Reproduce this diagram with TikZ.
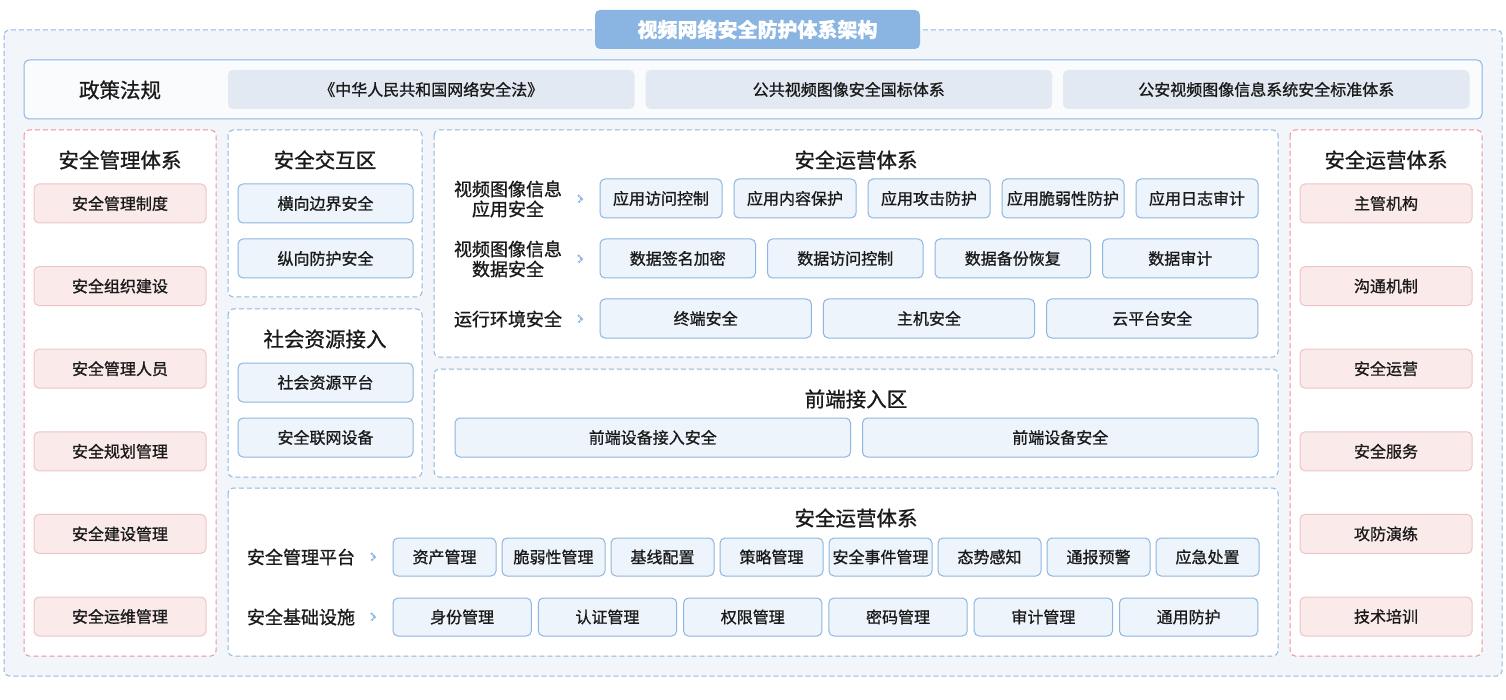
\documentclass[tikz,border=0pt]{standalone}
\usepackage{fontspec}
\setmainfont{Noto Sans CJK SC}[FakeBold=1]
\usetikzlibrary{positioning}
\definecolor{bgfill}{HTML}{F2F5F9}
\definecolor{dashblue}{HTML}{8FB8E3}
\definecolor{dashred}{HTML}{F0939D}
\definecolor{titlefill}{HTML}{8AB5E2}
\definecolor{itemline}{HTML}{8DB6E2}
\definecolor{itemfill}{HTML}{EEF4FB}
\definecolor{pinkline}{HTML}{EEC4C7}
\definecolor{pinkfill}{HTML}{FAEAEA}
\definecolor{lawfill}{HTML}{E2E9F2}
\definecolor{ink}{HTML}{1A1A1A}
\tikzset{
  panel/.style = {draw=dashblue, fill=white, line width=1pt,
                  dash pattern=on 5pt off 3pt, rounded corners=5pt},
  redpanel/.style = {panel, draw=dashred},
  item/.style = {draw=itemline, fill=itemfill, line width=1pt, rounded corners=5pt,
                 minimum height=39pt, inner sep=0pt, outer sep=0pt, text=ink,
                 font=\fontsize{16}{20}\selectfont},
  pinkitem/.style = {item, draw=pinkline, fill=pinkfill, minimum width=172pt},
  law/.style = {item, draw=none, fill=lawfill, minimum width=406.5pt},
  head/.style = {text=ink, inner sep=0pt, font=\fontsize{20.5}{24}\selectfont},
  lab/.style = {text=ink, inner sep=0pt, align=center, font=\fontsize{18}{20}\selectfont},
  chev/.style = {draw=itemline, line width=2pt, dash pattern=on 2pt off 0.8pt}
}
\begin{document}
\begin{tikzpicture}[x=1pt, y=-1pt]
		\useasboundingbox (0,0) rectangle (1506,700);
		
		% frame and title
		\draw[panel, fill=bgfill] (4,30) rectangle (1502,676);
		\node[fill=titlefill, rounded corners=5pt, minimum width=325pt, minimum height=39pt,
		      text=white, font=\fontsize{20}{24}\selectfont\bfseries] (title) at (757.5,29.5) {视频网络安全防护体系架构};
		
		% policy row
		\draw[draw=itemline, fill=white!60!bgfill, line width=1pt, rounded corners=5pt] (24,60) rectangle (1482,119);
		\node[head] (policy) at (120,90) {政策法规};
		\node[law] (law1) at (431.25,89.5) {《中华人民共和国网络安全法》};
		\node[law, right=11pt of law1] (law2) {公共视频图像安全国标体系};
		\node[law, right=11pt of law2] (law3) {公安视频图像信息系统安全标准体系};
		
		% panels
		\draw[redpanel] (24,130) rectangle (216,656);
		\draw[redpanel] (1290,130) rectangle (1482,656);
		\draw[panel] (228,130) rectangle (422,297);
		\draw[panel] (228,309) rectangle (422,477);
		\draw[panel] (434,130) rectangle (1278,357);
		\draw[panel] (434,369) rectangle (1278,477);
		\draw[panel] (228,488) rectangle (1278,656);
		
		% management system
		\node[head] (mgmt) at (120,160) {安全管理体系};
		\node[pinkitem] (m1) at (120,203.5) {安全管理制度};
		\node[pinkitem, below=43.6pt of m1] (m2) {安全组织建设};
		\node[pinkitem, below=43.6pt of m2] (m3) {安全管理人员};
		\node[pinkitem, below=43.6pt of m3] (m4) {安全规划管理};
		\node[pinkitem, below=43.6pt of m4] (m5) {安全建设管理};
		\node[pinkitem, below=43.6pt of m5] (m6) {安全运维管理};
		
		% operation system (right)
		\node[head] (ops) at (1386,160) {安全运营体系};
		\node[pinkitem] (o1) at (1386,203.5) {主管机构};
		\node[pinkitem, below=43.6pt of o1] (o2) {沟通机制};
		\node[pinkitem, below=43.6pt of o2] (o3) {安全运营};
		\node[pinkitem, below=43.6pt of o3] (o4) {安全服务};
		\node[pinkitem, below=43.6pt of o4] (o5) {攻防演练};
		\node[pinkitem, below=43.6pt of o5] (o6) {技术培训};
		
		% interaction zone and social resources
		\node[head] (xzone) at (325,160) {安全交互区};
		\node[item, minimum width=175pt] (x1) at (325.5,203.5) {横向边界安全};
		\node[item, minimum width=175pt, below=16pt of x1] (x2) {纵向防护安全};
		\node[head] (social) at (325,339) {社会资源接入};
		\node[item, minimum width=175pt] (s1) at (325.5,382.5) {社会资源平台};
		\node[item, minimum width=175pt, below=16pt of s1] (s2) {安全联网设备};
		
		% operation system (centre)
		\node[head] (opc) at (856,160) {安全运营体系};
		\node[lab] (appsec) at (508,199) {视频图像信息\\应用安全};
		\node[lab] (datasec) at (508,259) {视频图像信息\\数据安全};
		\node[lab] (envsec) at (508,319) {运行环境安全};
		\draw[chev] (578,195) -- (582,199) -- (578,203);
		\draw[chev] (578,255) -- (582,259) -- (578,263);
		\draw[chev] (578,315) -- (582,319) -- (578,323);
		\node[item, minimum width=122pt] (a1) at (661,198.5) {应用访问控制};
		\node[item, minimum width=122pt, right=12pt of a1] (a2) {应用内容保护};
		\node[item, minimum width=122pt, right=12pt of a2] (a3) {应用攻击防护};
		\node[item, minimum width=122pt, right=12pt of a3] (a4) {应用脆弱性防护};
		\node[item, minimum width=122pt, right=12pt of a4] (a5) {应用日志审计};
		\node[item, minimum width=155.5pt] (d1) at (677.75,258.5) {数据签名加密};
		\node[item, minimum width=155.5pt, right=12pt of d1] (d2) {数据访问控制};
		\node[item, minimum width=155.5pt, right=12pt of d2] (d3) {数据备份恢复};
		\node[item, minimum width=155.5pt, right=12pt of d3] (d4) {数据审计};
		\node[item, minimum width=211.3pt] (e1) at (705.65,318.5) {终端安全};
		\node[item, minimum width=211.3pt, right=12pt of e1] (e2) {主机安全};
		\node[item, minimum width=211.3pt, right=12pt of e2] (e3) {云平台安全};
		
		% front-end access
		\node[head] (front) at (856,399) {前端接入区};
		\node[item, minimum width=395.5pt] (f1) at (652.75,437.5) {前端设备接入安全};
		\node[item, minimum width=395.5pt, right=12pt of f1] (f2) {前端设备安全};
		
		% operation system (bottom)
		\node[head] (opb) at (856,518) {安全运营体系};
		\node[lab] (platform) at (301,557) {安全管理平台};
		\node[lab] (infra) at (301,617) {安全基础设施};
		\draw[chev] (371,553) -- (375,557) -- (371,561);
		\draw[chev] (371,613) -- (375,617) -- (371,621);
		\node[item, minimum width=103pt, minimum height=38pt] (p1) at (444.5,557) {资产管理};
		\node[item, minimum width=103pt, minimum height=38pt, right=6pt of p1] (p2) {脆弱性管理};
		\node[item, minimum width=103pt, minimum height=38pt, right=6pt of p2] (p3) {基线配置};
		\node[item, minimum width=103pt, minimum height=38pt, right=6pt of p3] (p4) {策略管理};
		\node[item, minimum width=103pt, minimum height=38pt, right=6pt of p4] (p5) {安全事件管理};
		\node[item, minimum width=103pt, minimum height=38pt, right=6pt of p5] (p6) {态势感知};
		\node[item, minimum width=103pt, minimum height=38pt, right=6pt of p6] (p7) {通报预警};
		\node[item, minimum width=103pt, minimum height=38pt, right=6pt of p7] (p8) {应急处置};
		\node[item, minimum width=138.3pt, minimum height=38pt] (b1) at (462.15,617) {身份管理};
		\node[item, minimum width=138.3pt, minimum height=38pt, right=7pt of b1] (b2) {认证管理};
		\node[item, minimum width=138.3pt, minimum height=38pt, right=7pt of b2] (b3) {权限管理};
		\node[item, minimum width=138.3pt, minimum height=38pt, right=7pt of b3] (b4) {密码管理};
		\node[item, minimum width=138.3pt, minimum height=38pt, right=7pt of b4] (b5) {审计管理};
		\node[item, minimum width=138.3pt, minimum height=38pt, right=7pt of b5] (b6) {通用防护};
		\end{tikzpicture}
\end{document}
